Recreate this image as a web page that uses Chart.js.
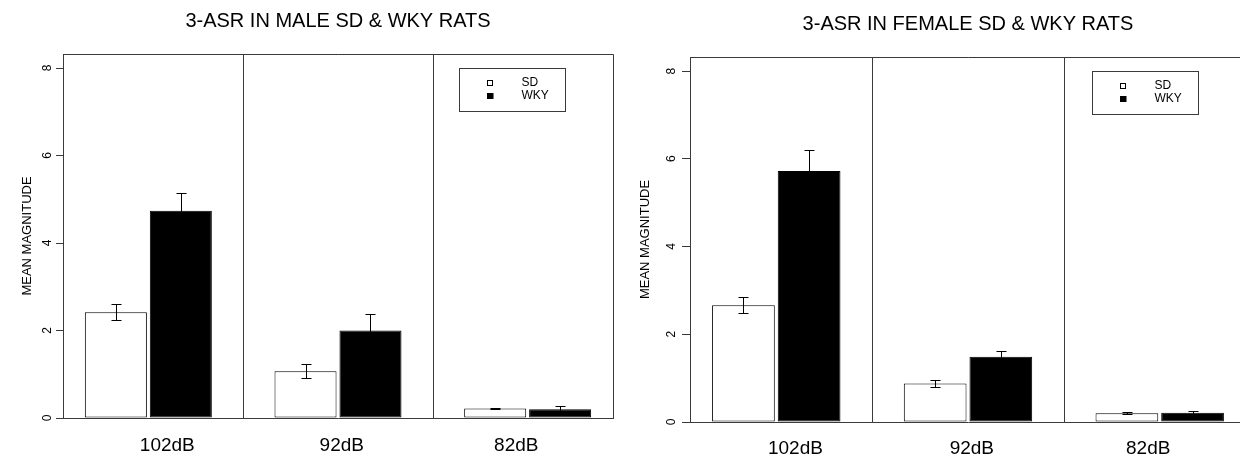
<!DOCTYPE html>
<html>
<head>
<meta charset="utf-8">
<script src="https://cdn.jsdelivr.net/npm/chart.js@4.4.1/dist/chart.umd.min.js"></script>
<style>
  html, body { margin: 0; padding: 0; background: #fff; }
  body { width: 1240px; height: 457px; overflow: hidden; position: relative; }
  canvas { position: absolute; top: 0; }
  #male { left: 0; }
  #female { left: 620px; }
</style>
</head>
<body>
<canvas id="male" width="620" height="457"></canvas>
<canvas id="female" width="640" height="457"></canvas>
<script>
const categories = ["102dB", "92dB", "82dB"];
const seriesNames = ["SD", "WKY"];
const yTicks = [0, 2, 4, 6, 8];

const maleSD = [2.42, 1.07, 0.22];
const maleSDErr = [0.19, 0.16, 0.02];
const maleWKY = [4.74, 2.0, 0.2];
const maleWKYErr = [0.41, 0.37, 0.07];

const femaleSD = [2.66, 0.88, 0.2];
const femaleSDErr = [0.185, 0.085, 0.025];
const femaleWKY = [5.72, 1.49, 0.21];
const femaleWKYErr = [0.48, 0.13, 0.03];

const FONT = "'Liberation Sans', Arial, sans-serif";
const LINE = "#3a3a3a";
// label spots under the groups (R put them a bit off the bar centres)
const labelPos = [1.1, 2.02, 2.94];

Chart.defaults.font.family = FONT;
Chart.defaults.color = "#000";

// box top/right + group separators
const framePlugin = {
  id: "frame",
  beforeDatasetsDraw(chart) {
    const { ctx, chartArea: a, scales } = chart;
    const top = Math.round(a.top) + 0.5;
    const right = Math.round(a.right) + 0.5;
    ctx.save();
    ctx.strokeStyle = LINE;
    ctx.lineWidth = 1;
    ctx.beginPath();
    ctx.moveTo(a.left, top);
    ctx.lineTo(right, top);
    ctx.lineTo(right, a.bottom);
    for (let i = 0; i < categories.length - 1; i++) {
      const sx = Math.round(scales.x.getPixelForValue(i + 1.5)) + 0.5;
      ctx.moveTo(sx, a.top);
      ctx.lineTo(sx, a.bottom);
    }
    ctx.stroke();
    ctx.restore();
  }
};

const errorBars = {
  id: "errorBars",
  afterDatasetsDraw(chart) {
    const { ctx, scales } = chart;
    ctx.save();
    ctx.strokeStyle = "#000";
    ctx.lineWidth = 1;
    chart.data.datasets.forEach((ds, di) => {
      const meta = chart.getDatasetMeta(di);
      meta.data.forEach((bar, i) => {
        const v = ds.data[i].y;
        const e = ds.errors[i];
        const x = Math.round(bar.x) + 0.5;
        const hi = Math.round(scales.y.getPixelForValue(v + e)) + 0.5;
        const lo = Math.round(scales.y.getPixelForValue(v - e)) + 0.5;
        ctx.beginPath();
        ctx.moveTo(x, lo);
        ctx.lineTo(x, hi);
        ctx.moveTo(x - 5, hi);
        ctx.lineTo(x + 5, hi);
        ctx.moveTo(x - 5, lo);
        ctx.lineTo(x + 5, lo);
        ctx.stroke();
      });
    });
    ctx.restore();
  }
};

const legendBox = {
  id: "legendBox",
  afterDraw(chart) {
    const { ctx, chartArea: a } = chart;
    const bx = Math.round(a.right - 154) + 0.5;
    const by = Math.round(a.top + 14) + 0.5;
    ctx.save();
    ctx.strokeStyle = LINE;
    ctx.lineWidth = 1;
    ctx.strokeRect(bx, by, 106, 43);
    ctx.font = "12px " + FONT;
    ctx.textBaseline = "middle";
    chart.data.datasets.forEach((ds, i) => {
      const ry = Math.round(by + 14 + i * 13);
      ctx.fillStyle = ds.backgroundColor;
      ctx.fillRect(bx + 28, ry - 3, 6, 6);
      ctx.strokeStyle = "#000";
      ctx.strokeRect(bx + 28, ry - 2.5, 5, 5);
      ctx.fillStyle = "#000";
      ctx.fillText(ds.label, bx + 62, ry);
    });
    ctx.restore();
  }
};

function makeChart(id, title, sd, sdErr, wky, wkyErr, lay) {
  const toPoints = vals => vals.map((v, i) => ({ x: i + 1, y: v }));
  const barOpts = {
    xAxisID: "x",
    yAxisID: "y",
    borderColor: "#000",
    borderWidth: 1,
    borderSkipped: false,
    categoryPercentage: 0.685,
    barPercentage: 0.955
  };

  return new Chart(document.getElementById(id), {
    type: "bar",
    data: {
      datasets: [
        { label: seriesNames[0], data: toPoints(sd), errors: sdErr, backgroundColor: "#fff", ...barOpts },
        { label: seriesNames[1], data: toPoints(wky), errors: wkyErr, backgroundColor: "#000", ...barOpts }
      ]
    },
    options: {
      responsive: false,
      animation: false,
      events: [],
      layout: { padding: { left: 0, right: lay.padRight, top: 0, bottom: 0 } },
      plugins: {
        legend: { display: false },
        tooltip: { enabled: false },
        title: {
          display: true,
          text: title,
          fullSize: false,
          color: "#000",
          font: { family: FONT, size: 20, weight: "normal" },
          padding: { top: lay.titleTop, bottom: lay.titleBottom }
        }
      },
      scales: {
        x: {
          type: "linear",
          min: 0.55,
          max: 3.45,
          offset: false,
          display: false,
          grid: { offset: false },
          afterBuildTicks: s => {
            s.ticks = categories.map((c, i) => ({ value: i + 1 }));
          }
        },
        xl: {
          type: "linear",
          position: "bottom",
          min: 0.55,
          max: 3.45,
          offset: false,
          afterBuildTicks: s => {
            s.ticks = labelPos.map(v => ({ value: v }));
          },
          afterFit: s => {
            s.height = lay.bottom;
          },
          grid: { display: true, offset: false, drawOnChartArea: false, drawTicks: false },
          border: { display: true, color: LINE, width: 1 },
          ticks: {
            autoSkip: false,
            maxRotation: 0,
            padding: lay.labelPad,
            color: "#000",
            font: { family: FONT, size: 19 },
            callback: (v, i) => categories[i]
          }
        },
        y: {
          type: "linear",
          position: "left",
          min: 0,
          max: 8.32,
          afterBuildTicks: s => {
            s.ticks = yTicks.map(v => ({ value: v }));
          },
          afterFit: s => {
            s.width = lay.left;
          },
          grid: { display: true, drawOnChartArea: false, drawTicks: true, tickLength: lay.tickLen, color: LINE },
          border: { display: true, color: LINE, width: 1 },
          ticks: {
            minRotation: 90,
            maxRotation: 90,
            crossAlign: "center",
            padding: lay.tickPad,
            color: "#000",
            font: { family: FONT, size: 12 }
          },
          title: {
            display: true,
            text: "MEAN MAGNITUDE",
            color: "#000",
            font: { family: FONT, size: 13 },
            padding: { top: lay.yTitlePad, bottom: 0 }
          }
        }
      }
    },
    plugins: [framePlugin, errorBars, legendBox]
  });
}

makeChart("male", "3-ASR IN MALE SD & WKY RATS", maleSD, maleSDErr, maleWKY, maleWKYErr, {
  padRight: 7, left: 63, bottom: 39, labelPad: 16, tickLen: 7, tickPad: 5,
  yTitlePad: 20, titleTop: 9, titleBottom: 21
});

makeChart("female", "3-ASR IN FEMALE SD & WKY RATS", femaleSD, femaleSDErr, femaleWKY, femaleWKYErr, {
  padRight: 14, left: 70, bottom: 35, labelPad: 15, tickLen: 8, tickPad: 7,
  yTitlePad: 18, titleTop: 12, titleBottom: 21
});
</script>
</body>
</html>
